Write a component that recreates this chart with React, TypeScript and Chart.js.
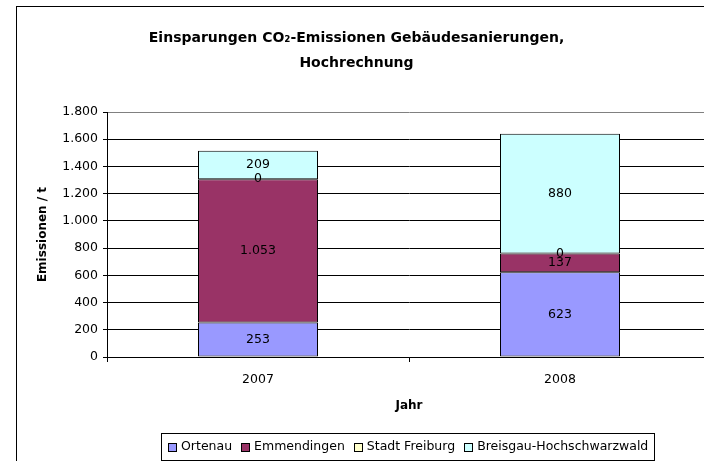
import React, { useEffect, useRef } from 'react';
import { Chart, registerables } from 'chart.js';

Chart.register(...registerables);

const categories = ['2007', '2008'];
const seriesNames = ['Ortenau', 'Emmendingen', 'Stadt Freiburg', 'Breisgau-Hochschwarzwald'];
const ortenau = [253, 623];
const emmendingen = [1053, 137];
const stadtFreiburg = [0, 0];
const breisgau = [209, 880];
const seriesColors = ['#9999FF', '#993366', '#FFFFCC', '#CCFFFF'];
const yMin = 0;
const yMax = 1800;
const yStep = 200;
const titleLines = ['Einsparungen CO₂-Emissionen Gebäudesanierungen,', 'Hochrechnung'];
const yAxisTitle = 'Emissionen / t';
const xAxisTitle = 'Jahr';

const FONT = '"DejaVu Sans", Verdana, sans-serif';
const W = 720;
const H = 470;

const fmt = (v: number) => String(Math.round(v)).replace(/\B(?=(\d{3})+(?!\d))/g, '.');

const framePlugin = {
  id: 'frame',
  beforeDraw(chart: any) {
    const { ctx } = chart;
    ctx.save();
    ctx.fillStyle = '#ffffff';
    ctx.fillRect(0, 0, chart.width, chart.height);
    ctx.strokeStyle = '#000000';
    ctx.lineWidth = 1;
    ctx.strokeRect(16.5, 6.5, chart.width + 20, chart.height + 20);
    ctx.restore();
  },
};

const dataLabelPlugin = {
  id: 'dataLabels',
  afterDatasetsDraw(chart: any) {
    const { ctx } = chart;
    ctx.save();
    ctx.font = `12.5px ${FONT}`;
    ctx.fillStyle = '#000000';
    ctx.textAlign = 'center';
    ctx.textBaseline = 'middle';
    chart.data.datasets.forEach((ds: any, di: number) => {
      const meta = chart.getDatasetMeta(di);
      meta.data.forEach((el: any, i: number) => {
        const v = ds.data[i];
        const y = (el.y + el.base) / 2;
        ctx.fillText(fmt(v), el.x, y);
      });
    });
    ctx.restore();
  },
};

const legendPlugin = {
  id: 'boxLegend',
  afterDraw(chart: any) {
    const { ctx, chartArea } = chart;
    ctx.save();
    ctx.font = `12.5px ${FONT}`;
    const sq = 8;
    const gapSqText = 5;
    const gapItem = 9;
    const padL = 7;
    const padR = 6;
    const items = chart.data.datasets.map((ds: any) => ({
      label: ds.label,
      color: ds.backgroundColor,
      w: ctx.measureText(ds.label).width,
    }));
    let total = 0;
    items.forEach((it: any, i: number) => {
      total += sq + gapSqText + it.w + (i < items.length - 1 ? gapItem : 0);
    });
    const boxW = Math.round(padL + total + padR);
    const cx = (chartArea.left + chartArea.right) / 2 - 1.5;
    const boxL = Math.round(cx - boxW / 2);
    const boxT = 433;
    const boxH = 27;
    ctx.fillStyle = '#ffffff';
    ctx.fillRect(boxL, boxT, boxW, boxH);
    ctx.strokeStyle = '#000000';
    ctx.lineWidth = 1;
    ctx.strokeRect(boxL + 0.5, boxT + 0.5, boxW, boxH);
    const cy = boxT + boxH / 2 + 0.5;
    let x = boxL + padL;
    ctx.textBaseline = 'middle';
    ctx.textAlign = 'left';
    items.forEach((it: any) => {
      const sy = Math.round(cy - sq / 2);
      ctx.fillStyle = it.color;
      ctx.fillRect(Math.round(x), sy, sq, sq);
      ctx.strokeStyle = '#000000';
      ctx.strokeRect(Math.round(x) + 0.5, sy + 0.5, sq, sq);
      x += sq + gapSqText;
      ctx.fillStyle = '#000000';
      ctx.fillText(it.label, x, cy);
      x += it.w + gapItem;
    });
    ctx.restore();
  },
};

export default function App() {
  const ref = useRef<HTMLCanvasElement | null>(null);

  useEffect(() => {
    if (!ref.current) return;
    document.body.style.margin = '0';
    document.body.style.overflow = 'hidden';
    const values = [ortenau, emmendingen, stadtFreiburg, breisgau];
    const chart = new Chart(ref.current, {
      type: 'bar',
      data: {
        labels: categories,
        datasets: seriesNames.map((name, i) => ({
          label: name,
          data: values[i],
          backgroundColor: seriesColors[i],
          borderColor: '#000000',
          borderWidth: 1,
          borderSkipped: false,
          categoryPercentage: 1,
          barPercentage: 120 / 302,
        })),
      },
      options: {
        animation: false,
        responsive: false,
        devicePixelRatio: 1,
        layout: { padding: { left: 2, right: W - 711, top: 0, bottom: 53 } },
        plugins: {
          legend: { display: false },
          tooltip: { enabled: false },
          title: {
            display: true,
            text: titleLines,
            color: '#000000',
            font: { family: FONT, size: 14, weight: 'bold', lineHeight: '25px' } as any,
            padding: { top: 25.5, bottom: 36.5 },
          },
        },
        scales: {
          x: {
            stacked: true,
            grid: {
              offset: true,
              drawOnChartArea: false,
              drawTicks: true,
              tickLength: 5,
              color: '#000000',
            },
            border: { display: true, color: '#000000' },
            ticks: { color: '#000000', padding: 10, font: { family: FONT, size: 12.5 } },
            title: {
              display: true,
              text: xAxisTitle,
              color: '#000000',
              font: { family: FONT, size: 12, weight: 'bold' },
              padding: { top: 0, bottom: 4 },
            },
            afterFit: (scale: any) => {
              scale.height = 60;
            },
          },
          y: {
            stacked: true,
            min: yMin,
            max: yMax,
            grid: {
              color: (c: any) => (c.tick && c.tick.value === yMax ? '#808080' : '#000000'),
              tickColor: '#000000',
              tickLength: 4,
              drawTicks: true,
            },
            border: { display: true, color: '#000000' },
            ticks: {
              stepSize: yStep,
              color: '#000000',
              padding: 5,
              font: { family: FONT, size: 12.5 },
              callback: (v: any) => fmt(Number(v)),
            },
            title: {
              display: true,
              text: yAxisTitle,
              color: '#000000',
              font: { family: FONT, size: 12, weight: 'bold' },
              padding: { top: 33.8, bottom: 0 },
            },
            afterFit: (scale: any) => {
              scale.width = 105;
            },
          },
        },
      },
      plugins: [framePlugin, dataLabelPlugin, legendPlugin],
    });
    return () => chart.destroy();
  }, []);

  return (
    <div
      style={{
        position: 'fixed',
        left: 0,
        top: 0,
        width: 704,
        height: 461,
        overflow: 'hidden',
        background: '#ffffff',
      }}
    >
      <canvas ref={ref} width={W} height={H} style={{ width: W, height: H, display: 'block' }} />
    </div>
  );
}
